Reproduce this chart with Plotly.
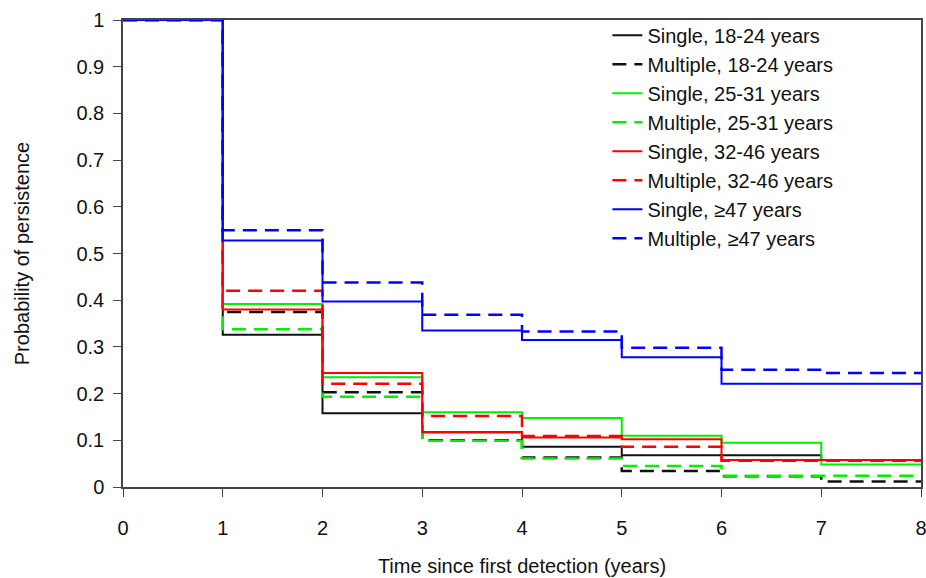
import plotly.graph_objects as go

years = [0, 1, 2, 3, 4, 5, 6, 7, 8]

single_18_24 = [1.0, 0.326, 0.158, 0.117, 0.086, 0.068, 0.068, 0.058, 0.058]
multiple_18_24 = [1.0, 0.375, 0.203, 0.100, 0.063, 0.034, 0.023, 0.012, 0.012]
single_25_31 = [1.0, 0.392, 0.235, 0.160, 0.148, 0.110, 0.095, 0.048, 0.048]
multiple_25_31 = [1.0, 0.338, 0.193, 0.099, 0.061, 0.045, 0.024, 0.024, 0.024]
single_32_46 = [1.0, 0.380, 0.244, 0.117, 0.106, 0.102, 0.058, 0.058, 0.058]
multiple_32_46 = [1.0, 0.420, 0.221, 0.152, 0.109, 0.086, 0.056, 0.056, 0.056]
single_47 = [1.0, 0.528, 0.397, 0.335, 0.315, 0.278, 0.221, 0.221, 0.221]
multiple_47 = [1.0, 0.550, 0.438, 0.369, 0.333, 0.298, 0.251, 0.244, 0.244]

series_names = [
    "Single, 18-24 years", "Multiple, 18-24 years",
    "Single, 25-31 years", "Multiple, 25-31 years",
    "Single, 32-46 years", "Multiple, 32-46 years",
    "Single, \u226547 years", "Multiple, \u226547 years",
]
series_values = [single_18_24, multiple_18_24, single_25_31, multiple_25_31,
                 single_32_46, multiple_32_46, single_47, multiple_47]
colors = ["#111111", "#111111", "#00ee00", "#00ee00", "#ff0000", "#ff0000", "#0000ff", "#0000ff"]

x_ticks = [0, 1, 2, 3, 4, 5, 6, 7, 8]
y_ticks = [0, 0.1, 0.2, 0.3, 0.4, 0.5, 0.6, 0.7, 0.8, 0.9, 1]
y_ticktext = ["0", "0.1", "0.2", "0.3", "0.4", "0.5", "0.6", "0.7", "0.8", "0.9", "1"]

FONT = "Liberation Sans, Arial, sans-serif"

fig = go.Figure()
for name, vals, col in zip(series_names, series_values, colors):
    dashed = name.startswith("Multiple")
    fig.add_trace(go.Scatter(
        x=years, y=vals, mode="lines", name=name,
        line=dict(shape="hv", color=col, width=2.5 if dashed else 2,
                  dash="14px,8px" if dashed else "solid"),
    ))

fig.update_layout(
    width=926, height=578,
    margin=dict(l=123, r=5, t=20, b=91),
    paper_bgcolor="white", plot_bgcolor="white",
    font=dict(family=FONT, size=20, color="#111111"),
    showlegend=True,
    legend=dict(
        x=0.607, y=1.009, xanchor="left", yanchor="top",
        bgcolor="rgba(255,255,255,0)", borderwidth=0,
        font=dict(family=FONT, size=20, color="#111111"),
        itemwidth=30, tracegroupgap=0,
    ),
    xaxis=dict(
        range=[0, 8], tickmode="array", tickvals=x_ticks, automargin=False,
        ticks="outside", ticklen=8, tickwidth=1.2, tickcolor="#444444",
        ticklabelstandoff=14, ticklabeloverflow="allow",
        showline=True, linecolor="#444444", linewidth=1.5, mirror=True,
        showgrid=False, zeroline=False,
        title=dict(text="Time since first detection (years)", standoff=21,
                   font=dict(family=FONT, size=20)),
    ),
    yaxis=dict(
        range=[0, 1], tickmode="array", tickvals=y_ticks, ticktext=y_ticktext,
        automargin=False,
        ticks="outside", ticklen=8, tickwidth=1.2, tickcolor="#444444",
        ticklabelstandoff=5,
        showline=True, linecolor="#444444", linewidth=1.5, mirror=True,
        showgrid=False, zeroline=False,
        title=dict(text="Probability of persistence", standoff=41,
                   font=dict(family=FONT, size=20)),
    ),
)

fig.write_html(
    "out.html",
    config={"displayModeBar": False},
    post_script="document.body.style.margin='0';document.body.style.overflow='hidden';",
)
